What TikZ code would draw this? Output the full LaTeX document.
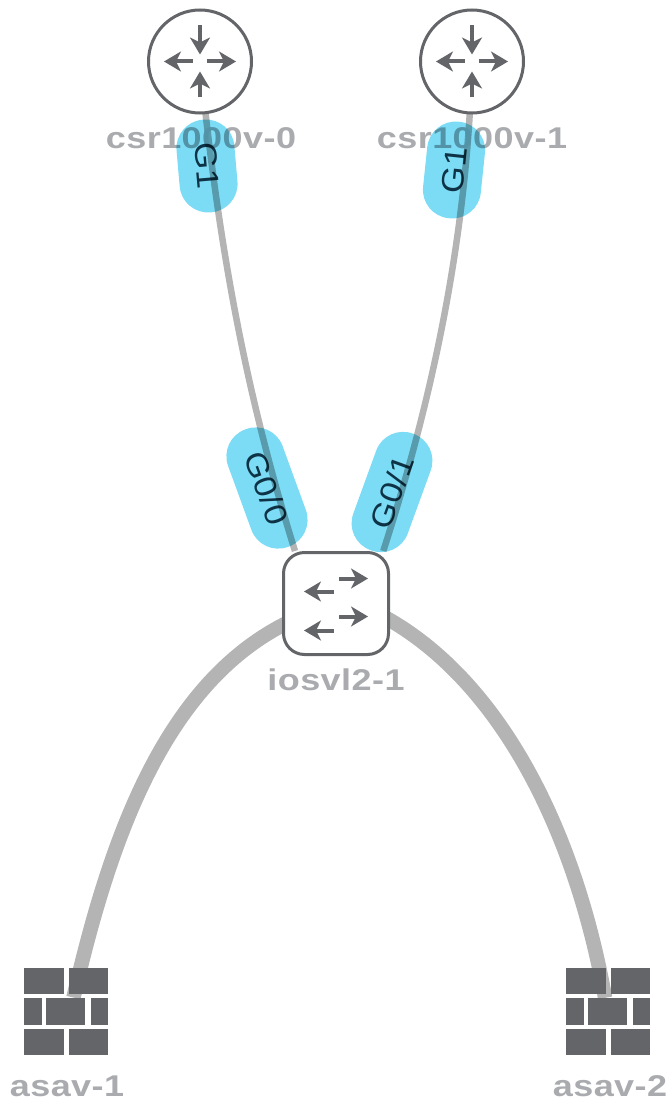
\documentclass[tikz,border=0pt]{standalone}
\usepackage{fontspec}
\setmainfont{Liberation Sans}
\newfontfamily\devfont[FakeStretch=1.2,LetterSpace=1.5]{Liberation Sans Bold}
\newfontfamily\pillfont[FakeStretch=1.12]{Liberation Sans}
\usetikzlibrary{arrows.meta,backgrounds}
\definecolor{icongray}{HTML}{636569}
\definecolor{labelgray}{HTML}{A9ABAE}
\definecolor{linkgray}{HTML}{B4B4B4}
\definecolor{pillblue}{HTML}{7DDCF5}
\definecolor{pilltext}{HTML}{1E3C4A}
\tikzset{
  router/.style={circle, draw=icongray, line width=3pt, fill=white, minimum size=103pt, inner sep=0pt},
  switchbox/.style={rectangle, draw=icongray, line width=3pt, fill=white, rounded corners=21pt, minimum width=105pt, minimum height=102pt, inner sep=0pt},
  firewall/.style={rectangle, minimum width=84pt, minimum height=87pt, inner sep=0pt},
  devlabel/.style={text=labelgray, font=\devfont\fontsize{30}{30}\selectfont, inner sep=0pt},
  pill/.style={rectangle, fill=pillblue, blend mode=multiply, rounded corners=28.5pt, minimum height=58pt, inner sep=0pt, text=pilltext, font=\pillfont\fontsize{31}{31}\selectfont},
  thinlink/.style={draw=linkgray, line width=6.5pt},
  thicklink/.style={draw=linkgray, line width=14.5pt, shorten <=-8pt, shorten >=-30pt},
  iconarrow/.style={draw=icongray, line width=4pt, -{Stealth[length=17pt,width=20pt,inset=5pt]}},
  pics/routericon/.style={code={
    \draw[iconarrow] (7,0) -- (36,0);
    \draw[iconarrow] (-7,0) -- (-36,0);
    \draw[iconarrow] (0,-36) -- (0,-7);
    \draw[iconarrow] (0,36) -- (0,10);
  }},
  pics/switchicon/.style={code={
    \draw[iconarrow] (3,-25) -- (32,-25);
    \draw[iconarrow] (-2,-12) -- (-32,-12);
    \draw[iconarrow] (3,13) -- (32,13);
    \draw[iconarrow] (-2,27) -- (-32,27);
  }},
  pics/bricks/.style={code={
    \fill[icongray] (-42,-44) rectangle (-2,-18);
    \fill[icongray] (3,-44) rectangle (42,-18);
    \fill[icongray] (-42,-14) rectangle (-24,13);
    \fill[icongray] (-20,-14) rectangle (19,13);
    \fill[icongray] (25,-14) rectangle (42,13);
    \fill[icongray] (-42,17) rectangle (-2,43);
    \fill[icongray] (3,17) rectangle (42,43);
  }}
}
\begin{document}
\begin{tikzpicture}[x=1pt,y=-1pt]
  \useasboundingbox (0,0) rectangle (669,1102);
  \node[router] (csr0) at (200,61.5) {};
  \node[router] (csr1) at (472,61.5) {};
  \node[switchbox] (sw) at (336,603.5) {};
  \node[firewall] (asa1) at (66,1012) {};
  \node[firewall] (asa2) at (607.5,1012) {};
  \pic at (csr0) {routericon};
  \pic at (csr1) {routericon};
  \pic at (sw) {switchicon};
  \pic at (asa1) {bricks};
  \pic at (asa2) {bricks};
  \node[devlabel] (csr0label) at (201,138) {csr1000v-0};
  \node[devlabel] (csr1label) at (472,138) {csr1000v-1};
  \node[devlabel] (swlabel) at (336,680) {iosvl2-1};
  \node[devlabel] (asa1label) at (67,1086) {asav-1};
  \node[devlabel] (asa2label) at (610,1086) {asav-2};
  \node[pill, minimum width=93pt, rotate=-85] (g1a) at (207,166) {G1};
  \node[pill, minimum width=97pt, rotate=84] (g1b) at (454,170) {G1};
  \node[pill, minimum width=125pt, rotate=-70] (g00) at (267,488) {G0/0};
  \node[pill, minimum width=124pt, rotate=70] (g01) at (392,492) {G0/1};
  \begin{scope}[on background layer]
    \draw[thinlink] (csr0.center) .. controls (217,231) and (242,381) .. (sw.128);
    \draw[thinlink] (csr1.center) .. controls (468,220) and (438,382) .. (sw.48);
    \draw[thicklink] (sw.202) .. controls (170,680) and (113,825) .. (asa1.72);
    \draw[thicklink] (sw.-17) .. controls (500,680) and (575,830) .. (asa2.100);
  \end{scope}
\end{tikzpicture}
\end{document}
